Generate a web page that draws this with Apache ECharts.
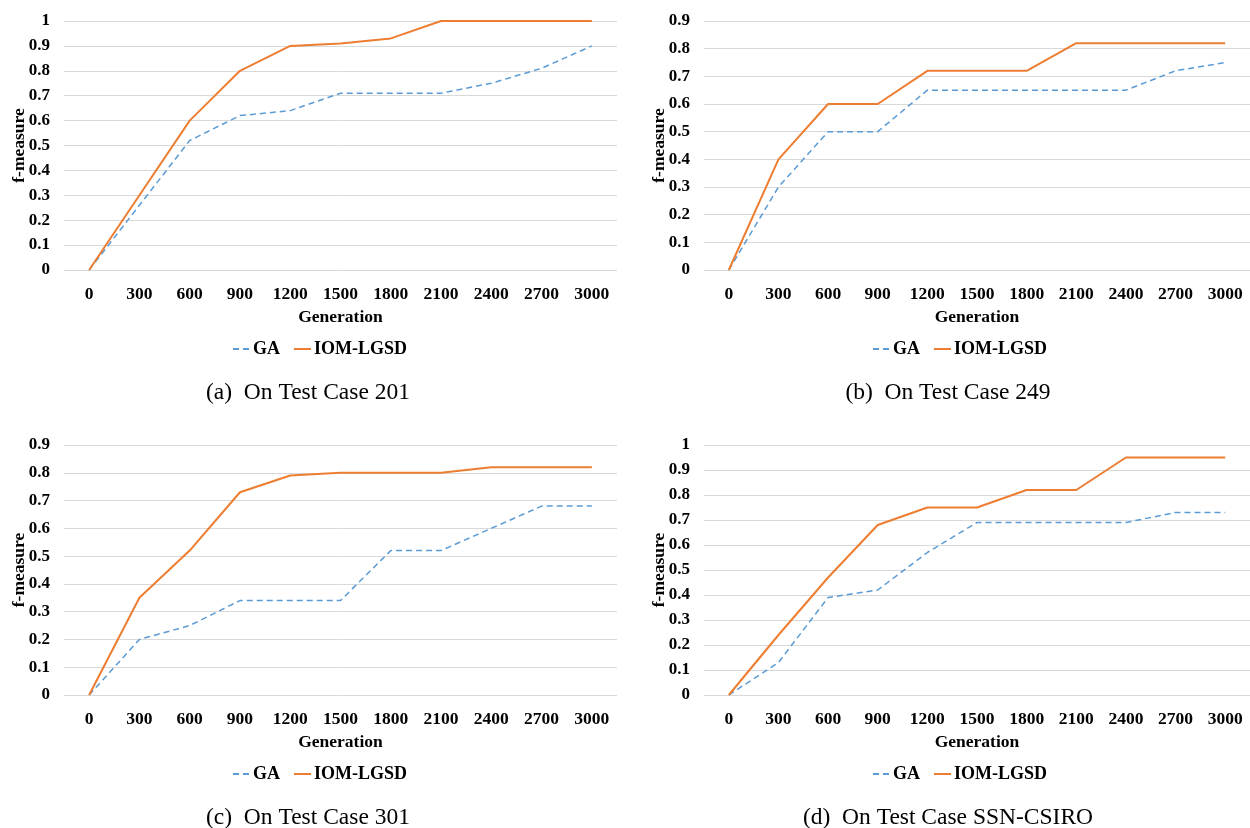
<!DOCTYPE html>
<html>
<head>
<meta charset="utf-8">
<script src="https://cdn.jsdelivr.net/npm/echarts@6/dist/echarts.min.js"></script>
<style>
html,body{margin:0;padding:0;background:#fff;}
#c{width:1250px;height:828px;}
</style>
</head>
<body>
<div id="c"></div>
<script>
const categories = ['0','300','600','900','1200','1500','1800','2100','2400','2700','3000'];
const seriesNames = ['GA','IOM-LGSD'];
const captions = ['(a)  On Test Case 201','(b)  On Test Case 249','(c)  On Test Case 301','(d)  On Test Case SSN-CSIRO'];
const yMaxes = [1, 0.9, 0.9, 1];

const ga201  = [0, 0.26, 0.52, 0.62, 0.64, 0.71, 0.71, 0.71, 0.75, 0.81, 0.90];
const iom201 = [0, 0.30, 0.60, 0.80, 0.90, 0.91, 0.93, 1.00, 1.00, 1.00, 1.00];
const ga249  = [0, 0.30, 0.50, 0.50, 0.65, 0.65, 0.65, 0.65, 0.65, 0.72, 0.75];
const iom249 = [0, 0.40, 0.60, 0.60, 0.72, 0.72, 0.72, 0.82, 0.82, 0.82, 0.82];
const ga301  = [0, 0.20, 0.25, 0.34, 0.34, 0.34, 0.52, 0.52, 0.60, 0.68, 0.68];
const iom301 = [0, 0.35, 0.52, 0.73, 0.79, 0.80, 0.80, 0.80, 0.82, 0.82, 0.82];
const gaSSN  = [0, 0.13, 0.39, 0.42, 0.57, 0.69, 0.69, 0.69, 0.69, 0.73, 0.73];
const iomSSN = [0, 0.24, 0.47, 0.68, 0.75, 0.75, 0.82, 0.82, 0.95, 0.95, 0.95];

const gaData = [ga201, ga249, ga301, gaSSN];
const iomData = [iom201, iom249, iom301, iomSSN];

const FONT = '"Liberation Serif", "Times New Roman", serif';
const BLUE = '#5B9BD5';
const ORANGE = '#ED7D31';
const GRIDC = '#D9D9D9';

const panels = [
  {left: 64,  top: 21,  width: 553, height: 249, legendLeft: 227, legendTop: 335, capX: 308, capY: 393},
  {left: 704, top: 21,  width: 554, height: 249, legendLeft: 867, legendTop: 335, capX: 948, capY: 393},
  {left: 64,  top: 445, width: 553, height: 250, legendLeft: 227, legendTop: 760, capX: 308, capY: 818},
  {left: 704, top: 445, width: 554, height: 250, legendLeft: 867, legendTop: 760, capX: 948, capY: 818}
];

const grid = [], xAxis = [], yAxis = [], series = [], legend = [], graphic = [];
panels.forEach((p, i) => {
  grid.push({left: p.left, top: p.top, width: p.width, height: p.height, containLabel: false});
  xAxis.push({
    type: 'category', gridIndex: i, data: categories, boundaryGap: true,
    name: 'Generation', nameLocation: 'middle', nameGap: 38, nameMoveOverlap: false,
    nameTextStyle: {fontFamily: FONT, fontWeight: 'bold', fontSize: 17.5, color: '#000'},
    axisLine: {show: false}, axisTick: {show: false},
    axisLabel: {fontFamily: FONT, fontWeight: 'bold', fontSize: 17.5, color: '#000', margin: 15, interval: 0},
    splitLine: {show: false}
  });
  yAxis.push({
    type: 'value', gridIndex: i, min: 0, max: yMaxes[i], interval: 0.1,
    name: 'f-measure', nameLocation: 'middle', nameRotate: 90, nameGap: 36, nameMoveOverlap: false,
    nameTextStyle: {fontFamily: FONT, fontWeight: 'bold', fontSize: 17.5, color: '#000'},
    axisLine: {show: false}, axisTick: {show: false},
    axisLabel: {fontFamily: FONT, fontWeight: 'bold', fontSize: 17, color: '#000', margin: 14,
      formatter: v => String(Math.round(v * 10) / 10)},
    splitLine: {show: true, lineStyle: {color: GRIDC, width: 1}}
  });
  series.push({
    name: seriesNames[0], type: 'line', xAxisIndex: i, yAxisIndex: i, data: gaData[i],
    symbol: 'none', showSymbol: false, smooth: false, color: BLUE,
    lineStyle: {color: BLUE, width: 1.5, type: [6, 4]}, z: 2
  });
  series.push({
    name: seriesNames[1], type: 'line', xAxisIndex: i, yAxisIndex: i, data: iomData[i],
    symbol: 'none', showSymbol: false, smooth: false, color: ORANGE,
    lineStyle: {color: ORANGE, width: 2, type: 'solid'}, z: 3
  });
  legend.push({
    left: p.legendLeft, top: p.legendTop, orient: 'horizontal', data: seriesNames,
    itemWidth: 17, itemHeight: 14, itemGap: 13, selectedMode: false,
    itemStyle: {opacity: 0, borderWidth: 0},
    textStyle: {fontFamily: FONT, fontWeight: 'bold', fontSize: 18, color: '#000', padding: [0, 0, 0, -2]}
  });
  graphic.push({
    type: 'text', x: p.capX, y: p.capY,
    style: {text: captions[i], fontFamily: FONT, fontSize: 23.5, fill: '#000', align: 'center', verticalAlign: 'middle'}
  });
});

const chart = echarts.init(document.getElementById('c'), null, {renderer: 'canvas'});
chart.setOption({
  animation: false,
  backgroundColor: '#fff',
  grid, xAxis, yAxis, series, legend, graphic
});
</script>
</body>
</html>
